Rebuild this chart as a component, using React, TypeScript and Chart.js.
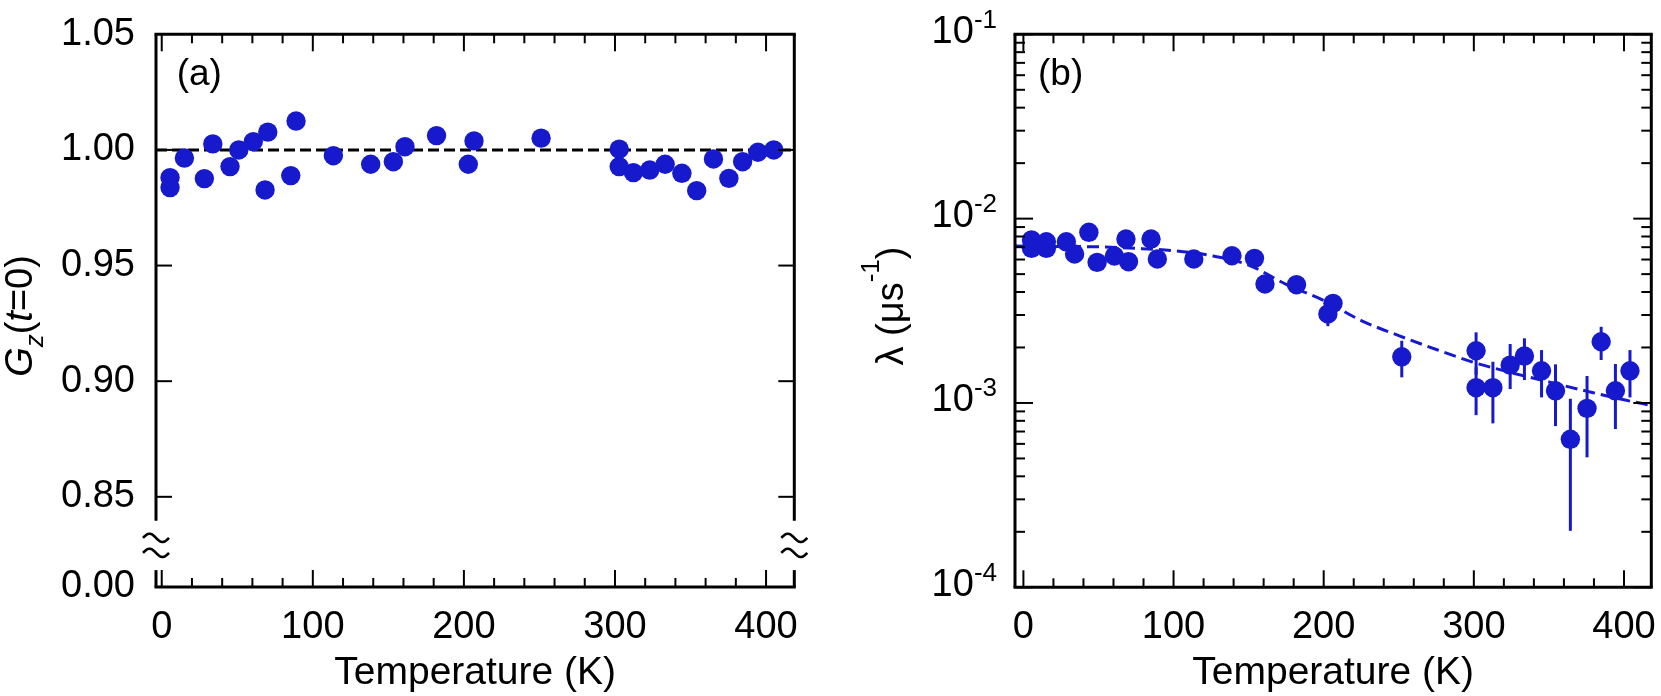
import React, { useEffect, useRef } from "react";
import { Chart, registerables } from "chart.js";

Chart.register(...registerables);

// ---------- Panel (a): Gz(t=0) vs temperature ----------
const tempA = [5.5, 5.5, 15.0, 28.2, 33.8, 45.2, 51.0, 60.6, 70.2, 68.4, 85.4, 88.9, 113.6, 138.3, 153.3, 161.0, 181.9, 202.9, 206.7, 251.1, 302.8, 302.8, 312.2, 323.0, 333.2, 344.3, 354.1, 365.2, 375.4, 384.5, 394.6, 405.1];
const gzA = [0.9837, 0.988, 0.9965, 0.9876, 1.0026, 0.9928, 1.0, 1.0036, 1.0077, 0.9827, 0.9889, 1.0125, 0.9975, 0.9938, 0.9949, 1.0014, 1.0062, 0.9938, 1.0039, 1.0051, 1.0003, 0.9928, 0.9902, 0.9913, 0.9938, 0.9899, 0.9824, 0.9961, 0.9877, 0.9949, 0.999, 1.0];
const refLineT = [-3.8, 418.7];
const refLineG = [1.0, 1.0];
const gzTicks = [0.85, 0.9, 0.95, 1.0, 1.05];
const gzTickLabels = ["0.85", "0.90", "0.95", "1.00", "1.05"];
const gzBreakValue = 0.811; // bottom of broken axis, labelled "0.00"
const gzBreakLabel = "0.00";
const gzGapTop = 0.8397;
const gzGapBottom = 0.8183;

// ---------- Panel (b): lambda vs temperature ----------
const tempB = [5.4, 5.4, 15.3, 15.3, 28.6, 34.1, 43.6, 49.1, 60.6, 68.3, 70.0, 85.0, 89.2, 113.5, 138.9, 153.9, 160.9, 181.9, 202.8, 206.2, 252.0, 301.5, 301.5, 312.7, 324.2, 333.7, 345.1, 354.4, 364.3, 375.4, 384.8, 394.3, 404.0];
const lambdaB = [0.00766, 0.0069, 0.00749, 0.0069, 0.00749, 0.00643, 0.00843, 0.00579, 0.00627, 0.00775, 0.00584, 0.00775, 0.00604, 0.00604, 0.00629, 0.00609, 0.00442, 0.00438, 0.00304, 0.00347, 0.00178, 0.00192, 0.00121, 0.00121, 0.001605, 0.001797, 0.001495, 0.001164, 0.000635, 0.000935, 0.002148, 0.001164, 0.001495];
const lambdaLo = [null, null, null, null, null, null, null, null, null, null, null, null, null, null, null, null, null, null, 0.00261, null, 0.001377, 0.001424, 0.000859, 0.000775, 0.00119, 0.001331, 0.001072, 0.000749, 0.0002025, 0.000507, 0.00171, 0.000722, 0.001072];
const lambdaHi = [null, null, null, null, null, null, null, null, null, null, null, null, null, null, null, null, null, null, 0.00347, null, 0.002175, 0.002416, 0.00156, 0.001673, 0.002088, 0.002242, 0.001936, 0.00162, 0.001054, 0.0014, 0.00259, 0.001626, 0.001936];
const fitT = [-5.6, 25, 50, 75, 100, 125, 150, 175, 200, 225, 250, 275, 300, 325, 350, 375, 400, 418.2];
const fitLambda = [0.0071, 0.00706, 0.00703, 0.0069, 0.0067, 0.0063, 0.0056, 0.0044, 0.0036, 0.0028, 0.00232, 0.00195, 0.00166, 0.00146, 0.0013, 0.00116, 0.00104, 0.00097];
const lambdaDecades = [-4, -3, -2, -1];
const lambdaDecadeLabels = ["-4", "-3", "-2", "-1"];

// ---------- shared temperature axis ----------
const tempMajor = [0, 100, 200, 300, 400];
const tempMajorLabels = ["0", "100", "200", "300", "400"];
const tempMinor = [20, 40, 60, 80, 120, 140, 160, 180, 220, 240, 260, 280, 320, 340, 360, 380];
const xTitle = "Temperature (K)";

const FONT = '"Liberation Sans", Arial, Helvetica, sans-serif';
const BLUE = "rgb(22,26,204)";

function seg(ctx: CanvasRenderingContext2D, x1: number, y1: number, x2: number, y2: number) {
  ctx.beginPath();
  ctx.moveTo(x1, y1);
  ctx.lineTo(x2, y2);
  ctx.stroke();
}

function tilde(ctx: CanvasRenderingContext2D, cx: number, cy: number) {
  const hw = 13;
  const amp = 4.2;
  ctx.beginPath();
  for (let i = 0; i <= 30; i++) {
    const t = i / 30;
    const px = cx - hw + 2 * hw * t;
    const py = cy - amp * Math.sin(2 * Math.PI * t);
    if (i === 0) ctx.moveTo(px, py);
    else ctx.lineTo(px, py);
  }
  ctx.stroke();
}

function drawXAxis(ctx: CanvasRenderingContext2D, chart: any) {
  const a = chart.chartArea;
  const x = chart.scales.x;
  ctx.strokeStyle = "#000";
  ctx.lineWidth = 2;
  tempMajor.forEach((v) => {
    const px = x.getPixelForValue(v);
    seg(ctx, px, a.bottom, px, a.bottom - 17);
    seg(ctx, px, a.top, px, a.top + 17);
  });
  tempMinor.forEach((v) => {
    const px = x.getPixelForValue(v);
    seg(ctx, px, a.bottom, px, a.bottom - 9);
    seg(ctx, px, a.top, px, a.top + 9);
  });
  ctx.fillStyle = "#000";
  ctx.font = `38px ${FONT}`;
  ctx.textAlign = "center";
  ctx.textBaseline = "alphabetic";
  tempMajor.forEach((v, i) => {
    ctx.fillText(tempMajorLabels[i], x.getPixelForValue(v), a.bottom + 51);
  });
  ctx.font = `39px ${FONT}`;
  ctx.fillText(xTitle, (a.left + a.right) / 2, a.bottom + 97);
}

type Part = { text: string; font: string; dy: number };

function drawRotated(ctx: CanvasRenderingContext2D, cx: number, cy: number, parts: Part[]) {
  ctx.save();
  ctx.translate(cx, cy);
  ctx.rotate(-Math.PI / 2);
  ctx.textAlign = "left";
  ctx.textBaseline = "alphabetic";
  let total = 0;
  parts.forEach((p) => {
    ctx.font = p.font;
    total += ctx.measureText(p.text).width;
  });
  let u = -total / 2;
  parts.forEach((p) => {
    ctx.font = p.font;
    ctx.fillText(p.text, u, p.dy);
    u += ctx.measureText(p.text).width;
  });
  ctx.restore();
}

const panelAPlugin = {
  id: "panelA",
  afterDraw(chart: any) {
    const ctx: CanvasRenderingContext2D = chart.ctx;
    const a = chart.chartArea;
    const y = chart.scales.y;
    ctx.save();
    ctx.strokeStyle = "#000";
    ctx.lineWidth = 3;
    seg(ctx, a.left - 1.5, a.top, a.right + 1.5, a.top);
    seg(ctx, a.left - 1.5, a.bottom, a.right + 1.5, a.bottom);
    const gTop = y.getPixelForValue(gzGapTop);
    const gBot = y.getPixelForValue(gzGapBottom);
    [a.left, a.right].forEach((sx) => {
      seg(ctx, sx, a.top, sx, gTop);
      seg(ctx, sx, gBot, sx, a.bottom);
    });
    ctx.lineWidth = 2.6;
    const mid = (gTop + gBot) / 2;
    [a.left, a.right].forEach((sx) => {
      tilde(ctx, sx, mid - 7.5);
      tilde(ctx, sx, mid + 7.5);
    });
    ctx.lineWidth = 2;
    gzTicks.forEach((v) => {
      if (v >= y.max - 1e-9) return;
      const py = y.getPixelForValue(v);
      seg(ctx, a.left, py, a.left + 16, py);
      seg(ctx, a.right, py, a.right - 16, py);
    });
    drawXAxis(ctx, chart);
    ctx.fillStyle = "#000";
    ctx.font = `38px ${FONT}`;
    ctx.textAlign = "right";
    ctx.textBaseline = "middle";
    gzTicks.forEach((v, i) => {
      ctx.fillText(gzTickLabels[i], a.left - 21, y.getPixelForValue(v));
    });
    ctx.fillText(gzBreakLabel, a.left - 21, y.getPixelForValue(gzBreakValue));
    ctx.textAlign = "left";
    ctx.textBaseline = "alphabetic";
    ctx.font = `37px ${FONT}`;
    ctx.fillText("(a)", a.left + 20.7, a.top + 50.7);
    drawRotated(ctx, 31.7, 316, [
      { text: "G", font: `italic 38px ${FONT}`, dy: 0 },
      { text: "z", font: `italic 26px ${FONT}`, dy: 11.6 },
      { text: "(", font: `38px ${FONT}`, dy: 0 },
      { text: "t", font: `italic 38px ${FONT}`, dy: 0 },
      { text: "=0)", font: `38px ${FONT}`, dy: 0 },
    ]);
    ctx.restore();
  },
};

const panelBPlugin = {
  id: "panelB",
  beforeDatasetsDraw(chart: any) {
    const ctx: CanvasRenderingContext2D = chart.ctx;
    const x = chart.scales.x;
    const y = chart.scales.y;
    ctx.save();
    ctx.strokeStyle = BLUE;
    ctx.lineWidth = 3;
    tempB.forEach((t, i) => {
      const lo = lambdaLo[i];
      const hi = lambdaHi[i];
      if (lo == null || hi == null) return;
      const px = x.getPixelForValue(t);
      seg(ctx, px, y.getPixelForValue(lo), px, y.getPixelForValue(hi));
    });
    ctx.restore();
  },
  afterDraw(chart: any) {
    const ctx: CanvasRenderingContext2D = chart.ctx;
    const a = chart.chartArea;
    const y = chart.scales.y;
    ctx.save();
    ctx.strokeStyle = "#000";
    ctx.lineWidth = 3;
    seg(ctx, a.left - 1.5, a.top, a.right + 1.5, a.top);
    seg(ctx, a.left - 1.5, a.bottom, a.right + 1.5, a.bottom);
    seg(ctx, a.left, a.top, a.left, a.bottom);
    seg(ctx, a.right, a.top, a.right, a.bottom);
    ctx.lineWidth = 2;
    lambdaDecades.forEach((d) => {
      const py = y.getPixelForValue(Math.pow(10, d));
      seg(ctx, a.left, py, a.left + 18, py);
      seg(ctx, a.right, py, a.right - 18, py);
      if (d < -1) {
        for (let k = 2; k <= 9; k++) {
          const pm = y.getPixelForValue(k * Math.pow(10, d));
          seg(ctx, a.left, pm, a.left + 10, pm);
          seg(ctx, a.right, pm, a.right - 10, pm);
        }
      }
    });
    drawXAxis(ctx, chart);
    ctx.fillStyle = "#000";
    ctx.textBaseline = "alphabetic";
    lambdaDecades.forEach((d, i) => {
      const py = y.getPixelForValue(Math.pow(10, d));
      const sup = lambdaDecadeLabels[i];
      ctx.font = `26px ${FONT}`;
      const sw = ctx.measureText(sup).width;
      const supRight = a.left - 18;
      ctx.textAlign = "left";
      ctx.fillText(sup, supRight - sw, py - 6.6);
      ctx.font = `38px ${FONT}`;
      ctx.textAlign = "right";
      ctx.fillText("10", supRight - sw, py + 8.5);
    });
    ctx.textAlign = "left";
    ctx.font = `37px ${FONT}`;
    ctx.fillText("(b)", a.left + 23, a.top + 50.7);
    drawRotated(ctx, a.left - 112, 306, [
      { text: "\u03BB (\u03BCs", font: `38px ${FONT}`, dy: 0 },
      { text: "-1", font: `26px ${FONT}`, dy: -24 },
      { text: ")", font: `38px ${FONT}`, dy: 0 },
    ]);
    ctx.restore();
  },
};

export default function App() {
  const refA = useRef<HTMLCanvasElement>(null);
  const refB = useRef<HTMLCanvasElement>(null);

  useEffect(() => {
    const chartA = new Chart(refA.current as HTMLCanvasElement, {
      type: "scatter",
      data: {
        datasets: [
          {
            type: "scatter",
            data: tempA.map((t, i) => ({ x: t, y: gzA[i] })),
            pointRadius: 9.7,
            pointBackgroundColor: BLUE,
            pointBorderWidth: 0,
            order: 1,
          } as any,
          {
            type: "line",
            data: refLineT.map((t, i) => ({ x: t, y: refLineG[i] })),
            borderColor: "#000",
            borderWidth: 3,
            borderDash: [11, 5],
            pointRadius: 0,
            fill: false,
            order: 2,
          } as any,
        ],
      },
      options: {
        animation: false,
        responsive: false,
        events: [],
        layout: { padding: { left: 156, right: 830 - 794.3, top: 34.3, bottom: 696 - 587 } },
        plugins: { legend: { display: false }, tooltip: { enabled: false } },
        scales: {
          x: { type: "linear", min: -3.8, max: 418.7, display: false },
          y: { type: "linear", min: gzBreakValue, max: 1.05, display: false },
        },
      },
      plugins: [panelAPlugin],
    } as any);

    const chartB = new Chart(refB.current as HTMLCanvasElement, {
      type: "scatter",
      data: {
        datasets: [
          {
            type: "scatter",
            data: tempB.map((t, i) => ({ x: t, y: lambdaB[i] })),
            pointRadius: 9.7,
            pointBackgroundColor: BLUE,
            pointBorderWidth: 0,
            order: 1,
          } as any,
          {
            type: "line",
            data: fitT.map((t, i) => ({ x: t, y: fitLambda[i] })),
            borderColor: BLUE,
            borderWidth: 3,
            borderDash: [12, 6],
            pointRadius: 0,
            fill: false,
            cubicInterpolationMode: "monotone",
            order: 2,
          } as any,
        ],
      },
      options: {
        animation: false,
        responsive: false,
        events: [],
        layout: { padding: { left: 185, right: 831 - 825.4, top: 34.3, bottom: 696 - 587.3 } },
        plugins: { legend: { display: false }, tooltip: { enabled: false } },
        scales: {
          x: { type: "linear", min: -5.6, max: 418.2, display: false },
          y: { type: "logarithmic", min: 1e-4, max: 1e-1, display: false },
        },
      },
      plugins: [panelBPlugin],
    } as any);

    return () => {
      chartA.destroy();
      chartB.destroy();
    };
  }, []);

  return (
    <div style={{ position: "absolute", left: 0, top: 0, width: 1661, height: 696, background: "#fff" }}>
      <canvas ref={refA} width={830} height={696} style={{ position: "absolute", left: 0, top: 0 }} />
      <canvas ref={refB} width={831} height={696} style={{ position: "absolute", left: 830, top: 0 }} />
    </div>
  );
}
